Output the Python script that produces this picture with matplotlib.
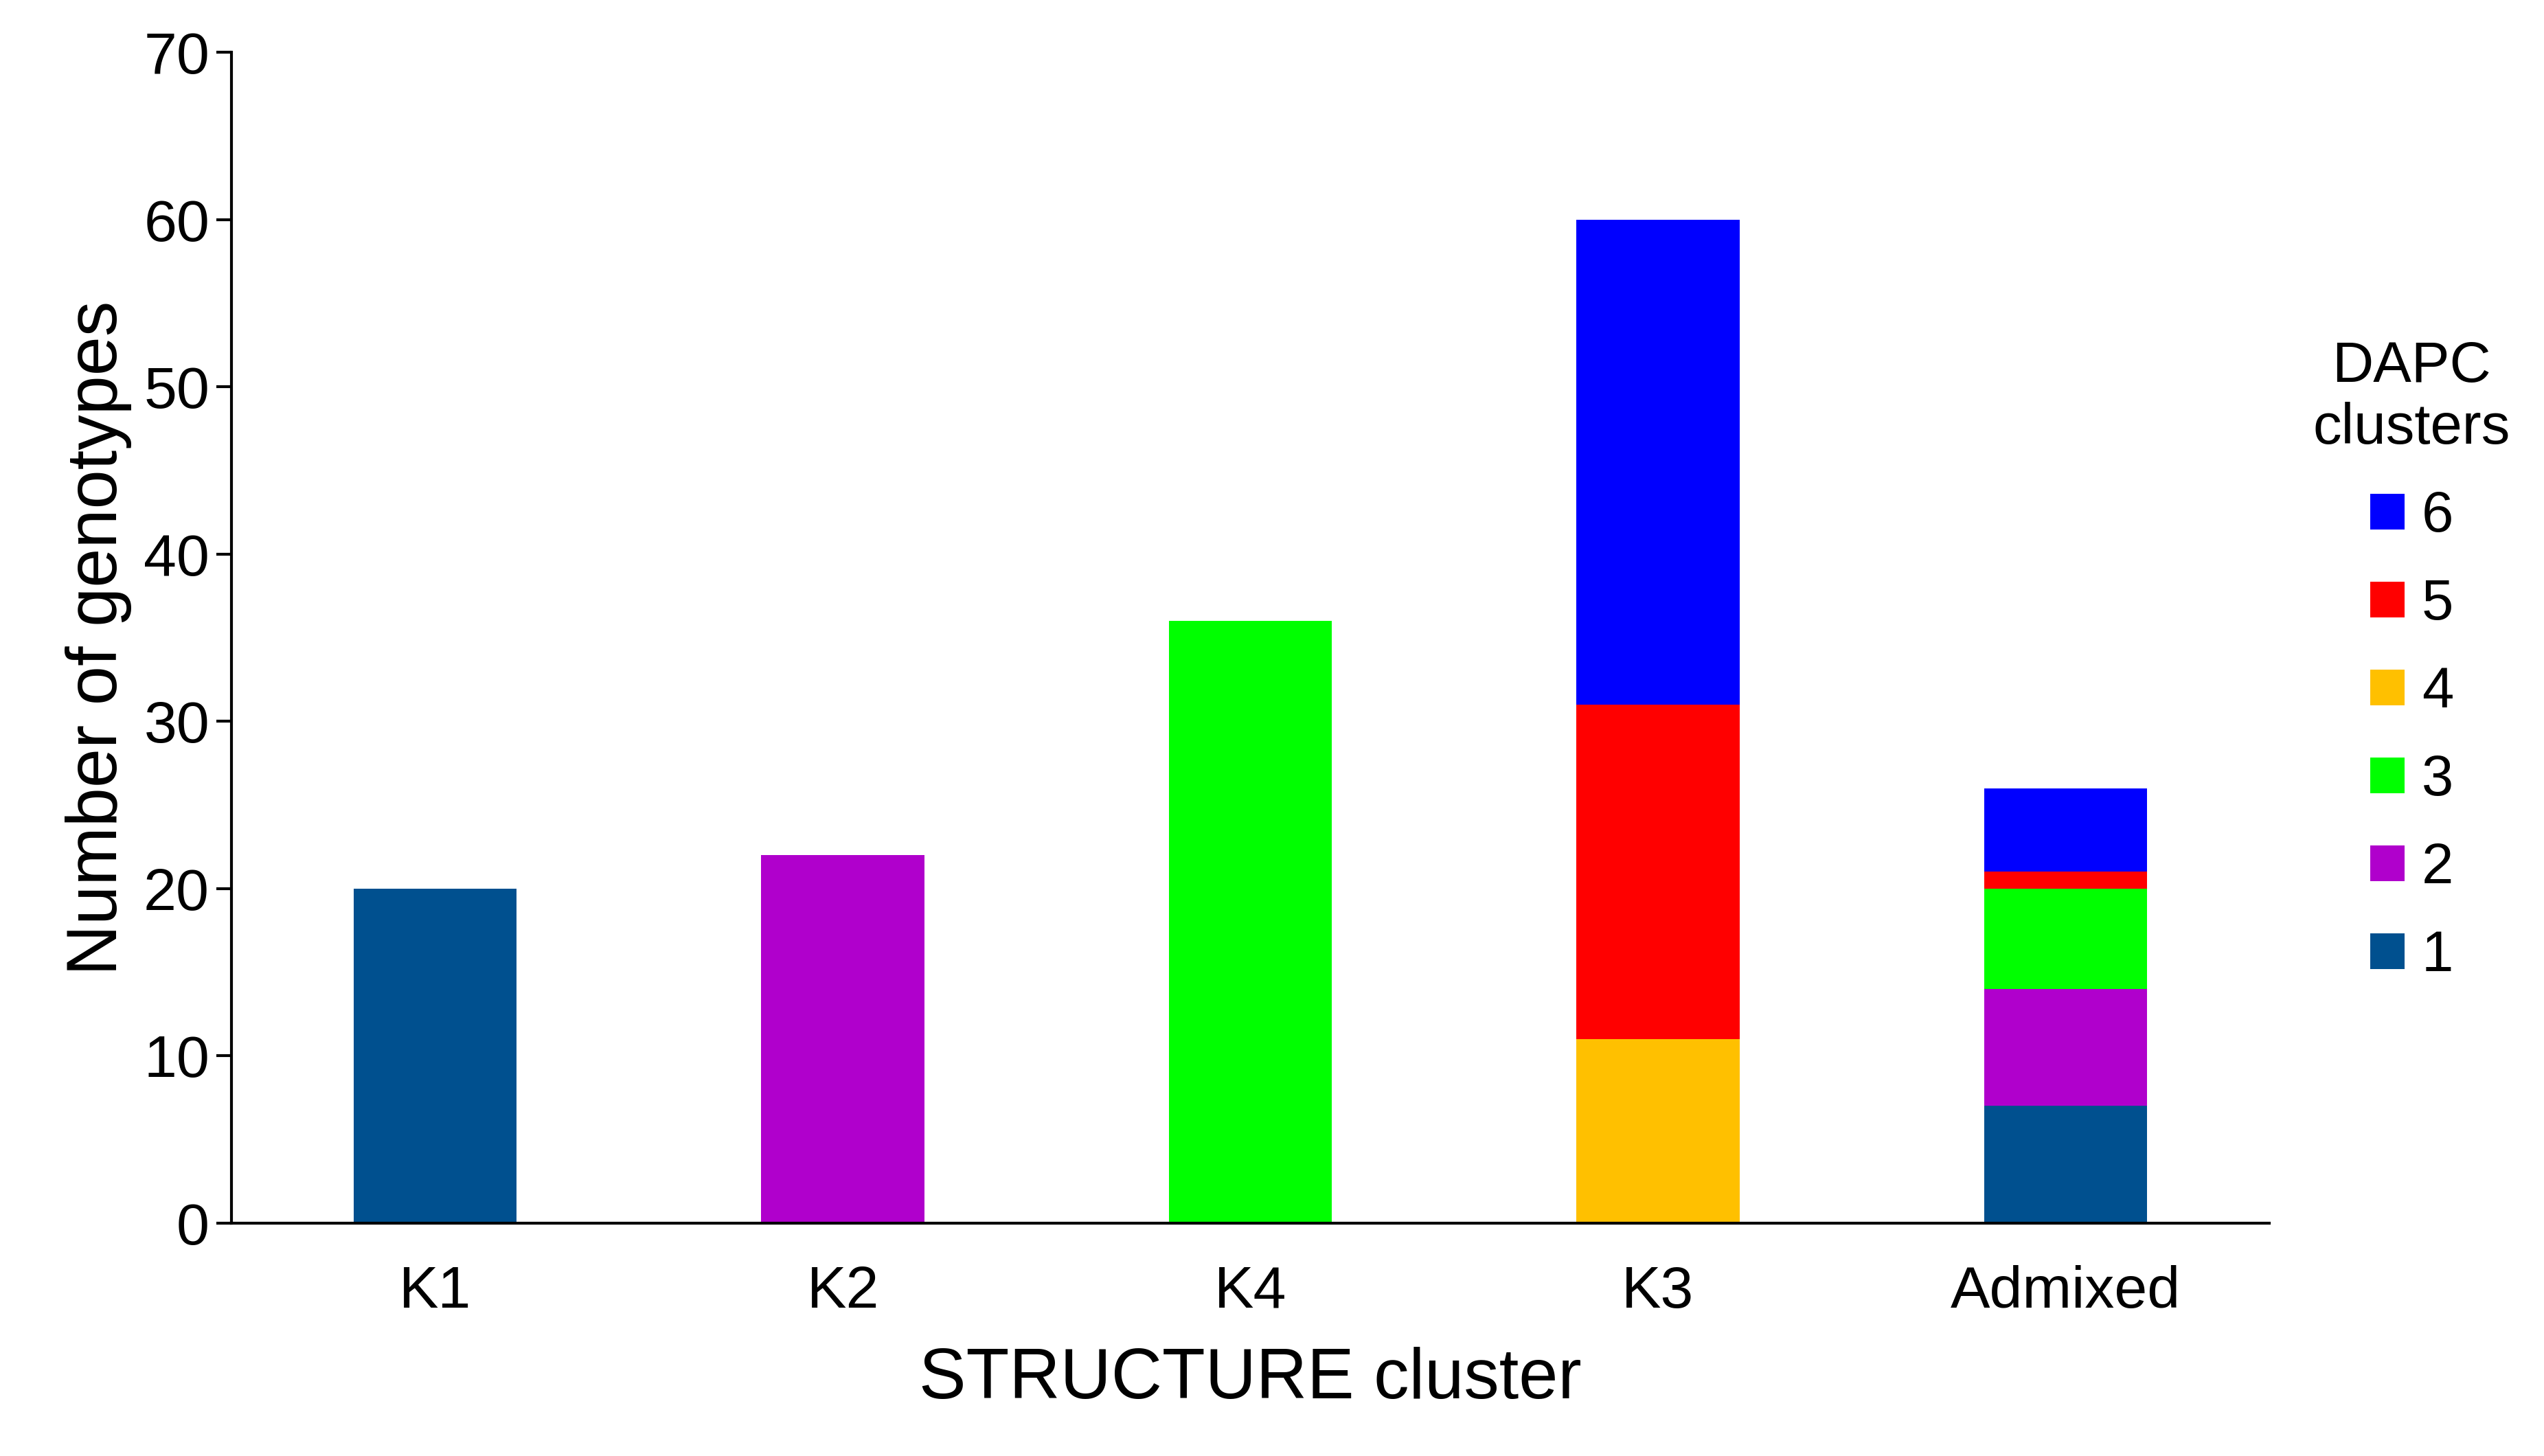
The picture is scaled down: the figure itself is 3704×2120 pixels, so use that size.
import matplotlib
matplotlib.use("Agg")
import matplotlib.pyplot as plt
import numpy as np

plt.rcParams["font.family"] = "Liberation Sans"

categories = ["K1", "K2", "K4", "K3", "Admixed"]
dapc_labels = ["1", "2", "3", "4", "5", "6"]
colors = ["#00508f", "#b000cc", "#00ff00", "#ffc000", "#ff0000", "#0000ff"]
# counts per DAPC cluster (rows) for each STRUCTURE cluster (columns)
c1 = [20, 0, 0, 0, 7]
c2 = [0, 22, 0, 0, 7]
c3 = [0, 0, 36, 0, 6]
c4 = [0, 0, 0, 11, 0]
c5 = [0, 0, 0, 20, 1]
c6 = [0, 0, 0, 29, 5]
series = [c1, c2, c3, c4, c5, c6]

fig = plt.figure(figsize=(18.52, 10.6), dpi=200)
ax = fig.add_axes([0.091, 0.160, 0.801, 0.804])
x = np.arange(len(categories))
bottom = np.zeros(len(categories))
handles = []
for vals, col, lab in zip(series, colors, dapc_labels):
    h = ax.bar(x, vals, 0.4, bottom=bottom, color=col, label=lab)
    handles.append(h)
    bottom += np.array(vals)

ax.set_xlim(-0.5, 4.5)
ax.set_ylim(0, 70)
ax.set_yticks(range(0, 71, 10))
ax.set_xticks(x)
ax.set_xticklabels(categories)
ax.tick_params(labelsize=31, length=8, width=1.5)
ax.tick_params(axis="x", length=0, pad=22)
for s in ("top", "right"):
    ax.spines[s].set_visible(False)
for s in ("left", "bottom"):
    ax.spines[s].set_linewidth(1.5)
ax.set_xlabel("STRUCTURE cluster", fontsize=37, labelpad=14)
ax.set_ylabel("Number of genotypes", fontsize=37, labelpad=6)

leg = fig.legend(handles[::-1], dapc_labels[::-1], title="DAPC\nclusters",
                 loc="upper center", bbox_to_anchor=(0.948, 0.79), frameon=False,
                 fontsize=30, title_fontsize=30, labelspacing=0.6,
                 handlelength=0.6, handleheight=0.6, handletextpad=0.3,
                 borderpad=0.1)
leg.get_title().set_multialignment("center")
leg._legend_box.align = "center"
fig.savefig("out.png", dpi=200)
